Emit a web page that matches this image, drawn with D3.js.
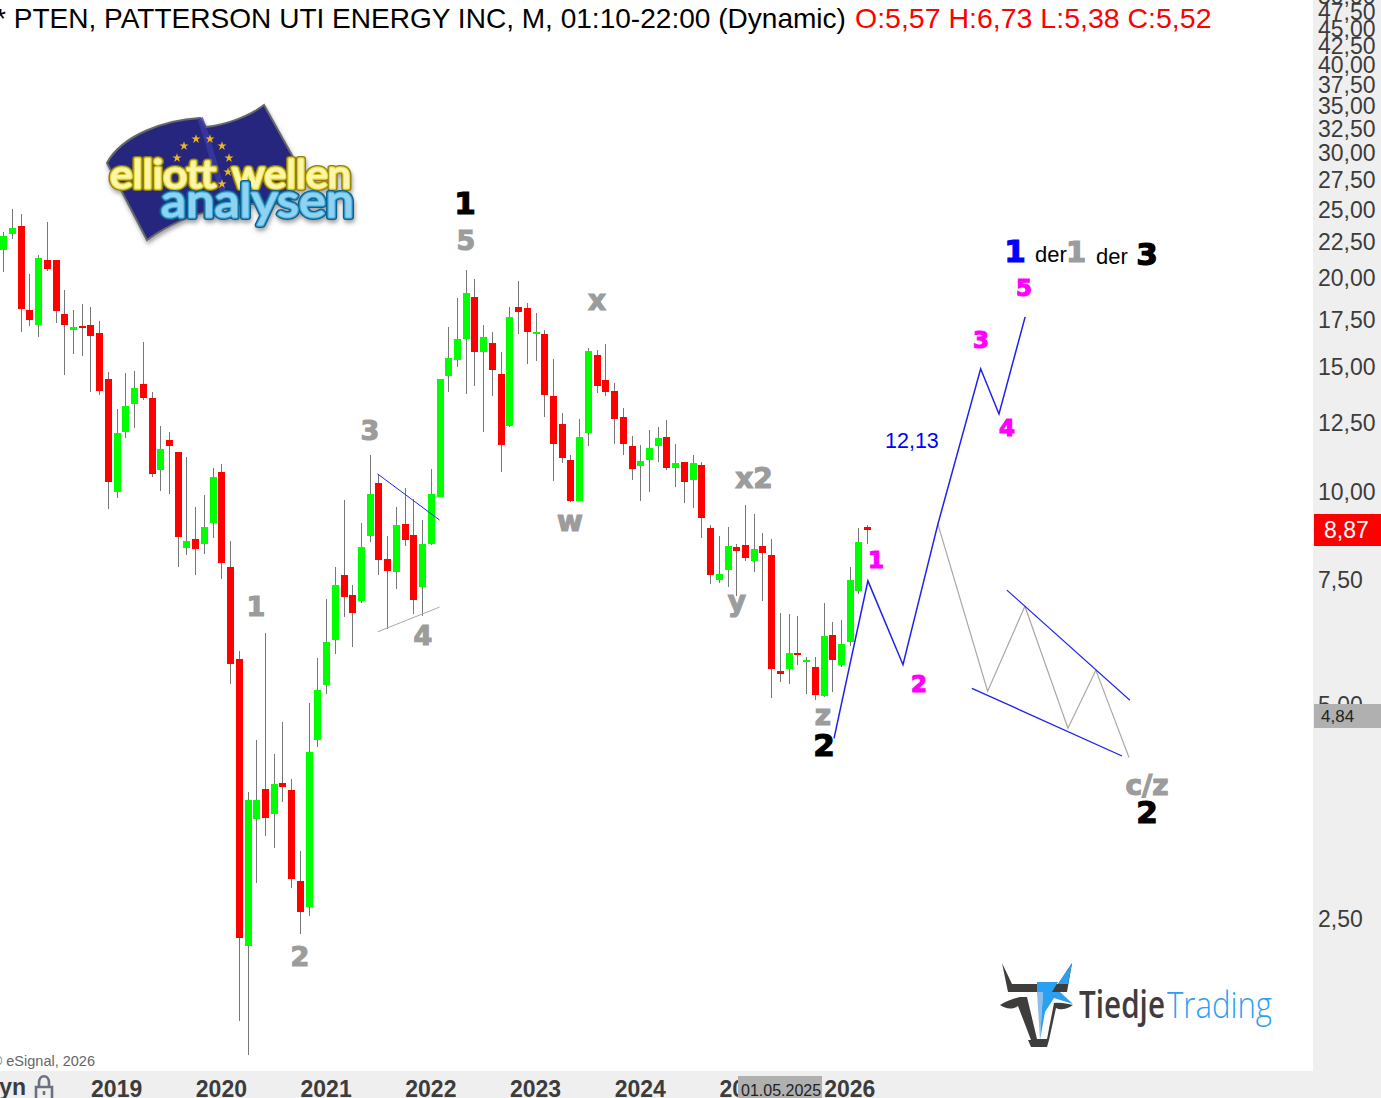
<!DOCTYPE html>
<html>
<head>
<meta charset="utf-8">
<title>PTEN</title>
<script src="https://cdn.jsdelivr.net/npm/d3@7"></script>
<style>
    html, body { margin: 0; padding: 0; background: #fff; overflow: hidden; }
    svg { display: block; }
    text { font-family: "Liberation Sans", Arial, sans-serif; }
    text.wave { font-family: "DejaVu Sans", sans-serif; font-weight: bold; text-anchor: middle; }
</style>
</head>
<body>
<div id="chart"></div>
<script>
// monthly candles, first one is Dec 2017
const opens = [21.88,23.04,23.65,18.01,17.14,21.18,21.18,17.77,16.87,17.08,17.14,16.71,14.39,9.97,12.11,13.27,14.16,13.53,10.70,11.80,
    11.35,8.31,8.56,8.42,9.01,10.64,7.81,5.80,2.28,3.45,3.80,3.50,3.87,3.79,2.82,2.59,4.45,5.33,6.16,7.61,
    7.14,7.00,8.64,10.26,8.02,7.69,8.98,8.67,7.32,8.42,9.81,14.53,15.31,16.39,18.78,15.71,16.17,14.62,12.35,18.18,
    18.12,16.66,16.66,13.62,12.43,11.06,9.68,12.07,15.56,14.35,13.84,12.72,11.57,10.85,11.06,11.57,11.91,10.77,10.99,10.36,
    10.88,8.87,7.49,7.74,8.34,8.39,7.97,8.37,8.12,5.57,5.61,5.91,5.74,5.65,5.14,6.26,5.68,6.12,7.23,8.90];
const highs = [23.19,25.00,24.60,20.24,21.53,23.96,21.18,19.21,18.01,18.36,18.18,17.37,14.72,13.06,14.67,14.77,16.23,13.80,12.35,12.11,
    11.35,11.17,9.49,9.87,10.77,10.91,8.50,5.95,3.76,4.45,6.31,4.26,4.72,3.93,3.11,5.02,5.82,7.05,7.81,9.71,
    7.37,9.01,11.24,10.53,8.64,9.49,10.10,9.74,9.10,10.74,14.39,17.03,18.72,20.50,19.91,17.14,16.76,15.71,18.18,19.78,
    18.42,17.83,16.87,15.36,12.88,11.24,12.63,15.92,15.81,16.12,14.20,13.10,11.95,11.61,12.19,12.31,12.59,11.65,10.99,11.24,
    10.99,8.95,8.64,8.90,8.42,9.56,9.28,8.72,8.56,6.73,6.71,6.66,5.84,5.84,6.96,6.54,6.58,7.81,8.87,8.95];
const lows = [20.39,22.68,16.73,17.06,16.51,20.44,17.27,14.55,15.61,15.51,13.81,13.66,9.43,9.78,11.88,12.27,13.44,10.47,10.00,9.90,
    7.81,8.12,7.61,8.15,8.58,7.52,5.34,1.79,1.60,2.80,3.26,3.14,3.64,2.76,2.37,2.52,4.35,5.17,5.89,6.64,
    6.02,6.96,8.47,7.61,6.39,7.27,8.37,6.71,6.66,8.39,9.81,13.80,14.96,13.71,14.07,12.11,13.62,10.64,12.31,16.66,
    15.11,15.26,12.72,10.33,10.95,9.65,9.68,11.57,13.75,13.62,11.65,11.24,10.36,9.68,9.97,10.99,10.70,10.13,9.62,9.46,
    8.58,7.39,7.42,7.32,7.11,7.97,7.69,7.00,5.10,5.38,5.34,5.68,5.17,5.07,5.12,5.20,5.65,6.04,7.16,8.42];
const closes = [22.90,23.50,18.03,17.43,21.32,20.57,17.95,17.14,17.03,16.98,16.55,13.84,10.30,12.07,13.18,13.98,13.53,10.57,11.46,11.57,
    8.61,8.50,8.28,8.90,10.47,7.91,5.70,2.34,3.67,3.67,3.46,3.86,3.83,2.84,2.55,4.29,5.24,6.12,7.37,7.09,
    6.73,8.34,9.90,7.99,7.71,8.95,8.53,7.02,8.42,9.90,14.39,15.41,16.39,19.03,15.71,16.50,14.82,11.61,17.60,17.89,
    16.76,16.76,13.66,11.65,11.13,9.68,11.91,15.76,14.07,13.80,12.63,11.65,10.74,11.02,11.50,11.88,10.77,10.95,10.30,10.95,
    9.16,7.61,7.64,8.37,8.23,8.05,8.28,8.18,5.61,5.52,5.91,5.87,5.78,5.15,6.24,5.78,6.08,7.49,8.47,8.81];

const priceTicks = [2.5,5,7.5,10,12.5,15,17.5,20,22.5,25,27.5,30,32.5,35,37.5,40,42.5,45,47.5,50];
const yearTicks = [13,25,37,49,61,73,85,97];
const yearLabels = ["2019","2020","2021","2022","2023","2024","2025","2026"];

// drawn wave counts: month index and price
const waveBlue = [[95.2,4.48],[99.08,7.47],[103.1,5.69],[107.1,8.98],[112.0,14.87],[114.1,12.84],[117.1,17.6]];
const waveGray = [[107.1,8.98],[112.8,5.22],[117.07,6.88],[122.0,4.63],[125.2,5.59],[129.0,4.21]];
const channelTop = [[115.0,7.25],[129.1,5.07]];
const channelBottom = [[111.0,5.27],[128.2,4.23]];
const triangleTop = [[42.9,10.57],[50.0,9.10]];
const triangleBottom = [[42.9,6.33],[50.0,6.86]];

const width = 1381, height = 1098;
const plotRight = 1313, plotBottom = 1071;

const svg = d3.select("#chart").append("svg")
    .attr("width", width)
    .attr("height", height);

const xScale = d3.scaleLinear().domain([0, 99]).range([3.2, 867.2]);
const yScale = d3.scaleLog().domain([2.5, 10]).range([918, 491]);

drawLogoElliott();
drawLogoTiedje();
drawPanels();
drawCandles();
drawWaves();
drawLabels();

function drawPanels(){
    svg.append("rect").attr("x", plotRight).attr("y", 0).attr("width", width - plotRight).attr("height", height).attr("fill", "#efefef");
    svg.append("rect").attr("x", 0).attr("y", plotBottom).attr("width", width).attr("height", height - plotBottom).attr("fill", "#efefef");

    //price axis on the right
    const yAxis = svg.append("g")
        .attr("transform", `translate(${plotRight},1)`)
        .call(d3.axisRight(yScale).tickValues(priceTicks).tickSize(0).tickPadding(5)
            .tickFormat(d => d3.format(".2f")(d).replace(".", ",")));
    yAxis.select(".domain").remove();
    yAxis.selectAll("text")
        .style("font-family", '"Liberation Sans", Arial, sans-serif')
        .style("font-size", "23px")
        .style("fill", "#3c3c3c");

    //year axis on the bottom
    const xAxis = svg.append("g")
        .attr("transform", `translate(-0.5,${plotBottom + 1})`)
        .call(d3.axisBottom(xScale).tickValues(yearTicks).tickSize(0).tickPadding(9)
            .tickFormat((d, i) => yearLabels[i]));
    xAxis.select(".domain").remove();
    xAxis.selectAll("text")
        .style("font-family", '"Liberation Sans", Arial, sans-serif')
        .style("font-weight", "bold")
        .style("font-size", "23px")
        .style("fill", "#3c3c3c");

    svg.append("text").attr("x", 26).attr("y", 1095).attr("text-anchor", "end")
        .style("font-weight", "bold").style("font-size", "23px").style("fill", "#3c3c3c").text("Dyn");
    svg.append("path")
        .attr("d", "M36,1098 V1087 H52 V1098 M39,1087 V1083 C39,1074 49,1074 49,1083 V1087 M44,1091 V1095")
        .attr("fill", "none").attr("stroke", "#6b7180").attr("stroke-width", 2.6);

    svg.append("text").attr("x", 95).attr("y", 1066).attr("text-anchor", "end")
        .style("font-size", "14.5px").style("fill", "#666").text("© eSignal, 2026");

    //current price and crosshair tags
    svg.append("rect").attr("x", 1314).attr("y", 514).attr("width", 67).attr("height", 32).attr("fill", "#ff0000");
    svg.append("text").attr("x", 1324).attr("y", 538).style("font-size", "23px").style("fill", "#fff").text("8,87");
    svg.append("rect").attr("x", 1314).attr("y", 704).attr("width", 67).attr("height", 24).attr("fill", "#b0b0b0");
    svg.append("text").attr("x", 1321).attr("y", 722).style("font-size", "17px").style("fill", "#222").text("4,84");
    svg.append("rect").attr("x", 738).attr("y", 1076).attr("width", 84).attr("height", 22).attr("fill", "#b0b0b0");
    svg.append("text").attr("x", 741).attr("y", 1096).style("font-size", "16px").style("fill", "#222").text("01.05.2025");

    //title line
    svg.append("text").attr("x", -5).attr("y", 28).style("font-size", "28.05px").style("fill", "#000")
        .text("* PTEN, PATTERSON UTI ENERGY INC, M, 01:10-22:00 (Dynamic)");
    svg.append("text").attr("x", 855).attr("y", 28).style("font-size", "28.5px").style("fill", "#ff0000")
        .text("O:5,57 H:6,73 L:5,38 C:5,52");
}

function drawCandles(){
    const candles = d3.range(opens.length);
    const g = svg.append("g");

    g.selectAll(".wick")
        .data(candles)
        .join("rect")
        .attr("class", "wick")
        .attr("x", i => Math.round(xScale(i)))
        .attr("y", i => Math.round(yScale(highs[i])))
        .attr("width", 1)
        .attr("height", i => Math.round(yScale(lows[i])) - Math.round(yScale(highs[i])))
        .attr("fill", "#777");

    g.selectAll(".body")
        .data(candles)
        .join("rect")
        .attr("class", "body")
        .attr("x", i => Math.round(xScale(i)) - 3)
        .attr("y", i => Math.round(yScale(Math.max(opens[i], closes[i]))))
        .attr("width", 7)
        .attr("height", i => Math.max(2, Math.round(yScale(Math.min(opens[i], closes[i]))) - Math.round(yScale(Math.max(opens[i], closes[i])))))
        .attr("fill", i => closes[i] >= opens[i] ? "#00ff00" : "#ff0000");
}

function drawWaves(){
    const line = d3.line().x(d => xScale(d[0])).y(d => yScale(d[1]));
    const paths = [
        [waveGray, "#a8a8a8", 1.2],
        [waveBlue, "#2020ee", 1.5],
        [channelTop, "#2020ee", 1.1],
        [channelBottom, "#2020ee", 1.3],
        [triangleTop, "#2020ee", 1],
        [triangleBottom, "#a8a8a8", 1]
    ];
    paths.forEach(p => {
        svg.append("path")
            .datum(p[0])
            .attr("fill", "none")
            .attr("stroke", p[1])
            .attr("stroke-width", p[2])
            .attr("d", line);
    });
}

function waveLabel(txt, x, y, size, color){
    svg.append("text")
        .attr("class", "wave")
        .attr("x", x)
        .attr("y", y)
        .style("font-size", size + "px")
        .style("fill", color)
        .style("stroke", color)
        .style("stroke-width", 1.2)
        .text(txt);
}

function drawLabels(){
    const gray = "#9c9c9c", pink = "#ff00ff";
    waveLabel("1", 465, 214, 31, "#000");
    waveLabel("5", 466, 250, 27, gray);
    waveLabel("3", 370, 440, 27, gray);
    waveLabel("4", 423, 645, 27, gray);
    waveLabel("1", 256, 616, 27, gray);
    waveLabel("2", 300, 966, 27, gray);
    waveLabel("x", 597, 310, 28, gray);
    waveLabel("w", 570, 531, 28, gray);
    waveLabel("x2", 754, 488, 28, gray);
    waveLabel("y", 737, 611, 28, gray);
    waveLabel("z", 823, 725, 28, gray);
    waveLabel("2", 824, 756, 31, "#000");
    waveLabel("1", 876, 568, 23, pink);
    waveLabel("2", 919, 692, 23, pink);
    waveLabel("3", 981, 348, 23, pink);
    waveLabel("4", 1007, 436, 23, pink);
    waveLabel("5", 1024, 296, 23, pink);
    waveLabel("1", 1015, 262, 31, "#0000ff");
    waveLabel("1", 1076, 262, 29, gray);
    waveLabel("3", 1147, 265, 31, "#000");
    waveLabel("c/z", 1147, 795, 28, gray);
    waveLabel("2", 1147, 823, 31, "#000");

    svg.append("text").attr("x", 1035).attr("y", 262).style("font-size", "22px").text("der");
    svg.append("text").attr("x", 1096).attr("y", 264).style("font-size", "22px").text("der");
    svg.append("text").attr("x", 885).attr("y", 448).style("font-size", "21.5px").style("fill", "#0000ff").text("12,13");
}

// the two logos are pictures in the original, sketched here
function drawLogoElliott(){
    const defs = svg.append("defs");
    defs.append("filter").attr("id", "logoShadow")
        .append("feDropShadow")
        .attr("dx", 1).attr("dy", 3).attr("stdDeviation", 2)
        .attr("flood-color", "#555").attr("flood-opacity", 0.55);

    const g = svg.append("g").attr("filter", "url(#logoShadow)");
    g.append("path")
        .attr("d", "M107,163 C122,135 165,120 200,118 L206,127 C226,125 250,116 264,105 L293,157 L286,172 L292,205 C250,200 190,208 147,240 Z")
        .attr("fill", "#26277f")
        .attr("stroke", "#66666e")
        .attr("stroke-width", 2);
    g.append("path")
        .attr("d", "M200,118 C212,150 218,185 232,215")
        .attr("fill", "none").attr("stroke", "#3b3da6").attr("stroke-width", 6).attr("opacity", 0.7);
    const stars = [[196,139],[210,139],[184,146],[222,146],[229,158],[228,172],[222,184],[177,158]];
    g.selectAll(".star")
        .data(stars)
        .join("path")
        .attr("class", "star")
        .attr("transform", d => `translate(${d[0]},${d[1]})`)
        .attr("d", d3.symbol(d3.symbolStar, 26))
        .attr("fill", "#eeb51a");

    const word = (txt, x, y, w, size, dark, mid, light) => {
        [[dark, 6, "none"], [mid, 3.4, "none"], [light, 1.2, light]].forEach(s => {
            g.append("text").attr("x", x).attr("y", y)
                .attr("textLength", w).attr("lengthAdjust", "spacingAndGlyphs")
                .style("font-family", '"Lato", sans-serif')
                .style("font-size", size + "px")
                .style("fill", s[2])
                .style("stroke", s[0]).style("stroke-width", s[1])
                .style("stroke-linejoin", "round")
                .text(txt);
        });
    };
    word("elliott", 110, 188, 106, 38, "#8f7f12", "#e8d83a", "#fbf6a8");
    word("wellen", 232, 188, 119, 38, "#8f7f12", "#e8d83a", "#fbf6a8");
    word("analysen", 161, 217, 193, 46, "#0f5f8c", "#3fa6d8", "#8ed4f2");
}

function drawLogoTiedje(){
    const g = svg.append("g");
    g.append("path")
        .attr("d", "M1002,963 L1012,984 L1058,984 L1072,963 L1067,992 L1008,992 Z M1000,1005 C1006,1001 1014,998 1020,997 L1027,997 L1037,1039 L1047,1039 L1054,1003 C1060,1002 1068,1004 1073,1005 C1066,1010 1060,1010 1056,1008 L1049,1040 L1047,1047 L1031,1047 L1028,1040 L1031,1040 L1018,1006 C1012,1010 1006,1009 1000,1005 Z")
        .attr("fill", "#3f3d3c");
    g.append("path").attr("d", "M1037,982 H1058 L1052,992 H1037 Z M1058,984 L1072,963 L1068,984 Z").attr("fill", "#2b9ff0");
    g.append("path").attr("d", "M1037,992 H1043 L1040,1040 Z").attr("fill", "#8dbde8");
    g.append("path").attr("d", "M1043,992 H1060 L1073,1004 L1054,998 L1045,1012 L1040,1040 Z").attr("fill", "#2b9ff0");

    g.append("text").attr("x", 1079).attr("y", 1018)
        .attr("textLength", 86).attr("lengthAdjust", "spacingAndGlyphs")
        .style("font-family", '"Open Sans", sans-serif').style("font-weight", "600")
        .style("font-size", "37px").style("fill", "#3f3d3c").text("Tiedje");
    g.append("text").attr("x", 1167).attr("y", 1018)
        .attr("textLength", 105).attr("lengthAdjust", "spacingAndGlyphs")
        .style("font-family", '"Open Sans", sans-serif').style("font-weight", "300")
        .style("font-size", "37px").style("fill", "#2b9ff0").text("Trading");
}
</script>
</body>
</html>
